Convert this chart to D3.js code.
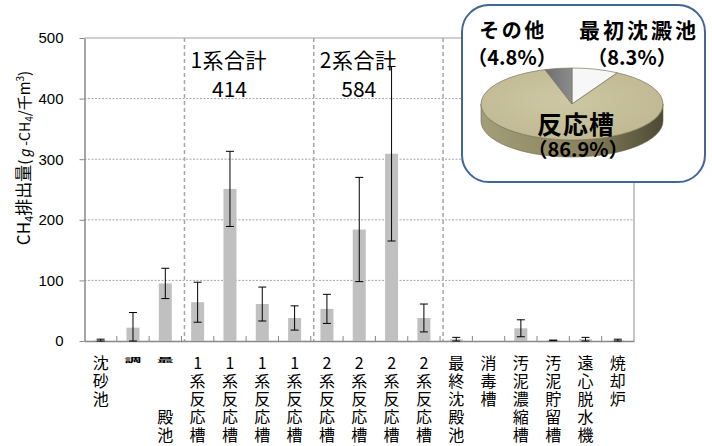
<!DOCTYPE html>
<html>
<head>
<meta charset="utf-8">
<script src="https://cdn.jsdelivr.net/npm/d3@7"></script>
<style>
  html, body { margin: 0; padding: 0; background: #fff; }
  svg { display: block; }
  text { font-family: "Noto Sans CJK JP", "Noto Sans", sans-serif; }
</style>
</head>
<body>
<svg id="chart" width="712" height="446"></svg>
<script>
// Facility-level CH4 emission factors (g-CH4 / 1000 m3)
const categories = [
  "沈砂池", "調整池", "最初沈殿池",
  "1系反応槽A", "1系反応槽B", "1系反応槽C", "1系反応槽D",
  "2系反応槽A", "2系反応槽B", "2系反応槽C", "2系反応槽D",
  "最終沈殿池", "消毒槽", "汚泥濃縮槽", "汚泥貯留槽", "遠心脱水機", "焼却炉"
];
// Axis labels as written under each bar ("*" = first glyph squeezed, "　" = blank row)
const tickLabels = [
  "沈砂池", "*調", "*最　　殿池",
  "1系反応槽A", "1系反応槽B", "1系反応槽C", "1系反応槽D",
  "2系反応槽A", "2系反応槽B", "2系反応槽C", "2系反応槽D",
  "最終沈殿池", "消毒槽", "汚泥濃縮槽", "汚泥貯留槽", "遠心脱水機", "焼却炉"
];
const meanValues = [1, 22, 95, 64, 251, 61, 38, 53, 184, 309, 38, 3, 0, 21, 1, 3, 1];
const errorValues = [2, 25, 25, 33, 62, 28, 20, 24, 86, 144, 23, 3, 0, 14, 0.5, 3, 2];
const yTicks = [0, 100, 200, 300, 400, 500];

// Reactor trains grouped for subtotal annotations
const groups = [
  { title: "1系合計", first: "1系反応槽A", last: "1系反応槽D" },
  { title: "2系合計", first: "2系反応槽A", last: "2系反応槽D" }
];
// Dashed separators drawn before these categories
const separatorsBefore = ["1系反応槽A", "2系反応槽A", "最終沈殿池"];

// Share of total emissions (inset pie)
const pieLabels = ["最初沈澱池", "反応槽", "その他"];
const pieShares = [8.3, 86.9, 4.8];

const svg = d3.select("#chart");
const plot = { left: 84.5, right: 634, top: 38, bottom: 341 };

const x = d3.scaleBand().domain(categories).range([plot.left, plot.right]).padding(0);
const y = d3.scaleLinear().domain([0, 500]).range([plot.bottom, plot.top]);

// Gridlines
svg.append("g").selectAll("line")
  .data(yTicks.filter(v => v > 0 && v < 500))
  .join("line")
  .attr("x1", plot.left).attr("x2", plot.right)
  .attr("y1", d => y(d)).attr("y2", d => y(d))
  .attr("stroke", "#a6a6a6").attr("stroke-width", 1)
  .attr("stroke-dasharray", "2,1.5");

// Plot frame (top and right)
svg.append("path")
  .attr("d", `M${plot.left},${plot.top}H${plot.right}V${plot.bottom}`)
  .attr("fill", "none").attr("stroke", "#a0a0a0").attr("stroke-width", 1.2);

// Dashed separators
svg.append("g").selectAll("line")
  .data(separatorsBefore)
  .join("line")
  .attr("x1", d => x(d) + 3).attr("x2", d => x(d) + 3)
  .attr("y1", plot.top).attr("y2", plot.bottom)
  .attr("stroke", "#a6a6a6").attr("stroke-width", 1.5)
  .attr("stroke-dasharray", "4,3");

// Y axis
const yAxis = svg.append("g")
  .attr("transform", `translate(${plot.left},0)`)
  .call(d3.axisLeft(y).tickValues(yTicks).tickSize(5).tickPadding(16).tickSizeOuter(0));
yAxis.select(".domain").attr("stroke", "#888").attr("stroke-width", 1.5);
yAxis.selectAll(".tick line").attr("stroke", "#888");
yAxis.selectAll(".tick text")
  .style("font-family", "'Liberation Sans', Arial, sans-serif")
  .style("font-size", "15px").attr("fill", "#000");

// X axis (ticks point up into the plot)
const xAxis = svg.append("g")
  .attr("transform", `translate(0,${plot.bottom})`)
  .call(d3.axisBottom(x).tickSize(0).tickFormat(""));
xAxis.select(".domain").attr("stroke", "#888").attr("stroke-width", 1.5);
svg.append("g").selectAll("line")
  .data(categories.slice(1))
  .join("line")
  .attr("x1", d => x(d)).attr("x2", d => x(d))
  .attr("y1", plot.bottom).attr("y2", plot.bottom - 5)
  .attr("stroke", "#888");

// Bars
const barW = 13;
svg.append("g").selectAll("rect")
  .data(categories)
  .join("rect")
  .attr("x", d => x(d) + x.bandwidth() / 2 - barW / 2)
  .attr("width", barW)
  .attr("y", (d, i) => y(meanValues[i]))
  .attr("height", (d, i) => y(0) - y(meanValues[i]))
  .attr("fill", "#c0c0c0");

// Subtotal annotations
groups.forEach(g => {
  const i0 = categories.indexOf(g.first), i1 = categories.indexOf(g.last);
  const total = d3.sum(meanValues.slice(i0, i1 + 1));
  const x0 = x(g.first) + 3 + 6;
  svg.append("text").attr("x", x0).attr("y", 68)
    .attr("font-size", 21).attr("letter-spacing", 0.5).attr("fill", "#000").text(g.title);
  svg.append("text").attr("x", x0 + 39).attr("y", 97).attr("text-anchor", "middle")
    .attr("font-size", 21).attr("fill", "#000").text(total);
});

// Error bars
const capW = 8;
const eb = svg.append("g").attr("stroke", "#000").attr("stroke-width", 1);
categories.forEach((c, i) => {
  const e = errorValues[i];
  if (!e) return;
  const cx = x(c) + x.bandwidth() / 2;
  const hi = meanValues[i] + e, lo = Math.max(0, meanValues[i] - e);
  eb.append("line").attr("x1", cx).attr("x2", cx).attr("y1", y(hi)).attr("y2", y(lo));
  eb.append("line").attr("x1", cx - capW / 2).attr("x2", cx + capW / 2).attr("y1", y(hi)).attr("y2", y(hi));
  eb.append("line").attr("x1", cx - capW / 2).attr("x2", cx + capW / 2).attr("y1", y(lo)).attr("y2", y(lo));
});

// Vertical category labels
const rowStep = 18, firstBaseline = 369;
const xl = svg.append("g");
tickLabels.forEach((lab, i) => {
  const cx = x(categories[i]) + x.bandwidth() / 2;
  let squeeze = false, s = lab;
  if (s.startsWith("*")) { squeeze = true; s = s.slice(1); }
  Array.from(s).forEach((ch, r) => {
    if (ch === "　") return;
    const t = xl.append("text").attr("text-anchor", "middle").attr("font-size", 16)
      .attr("fill", "#000").text(ch);
    if (squeeze && r === 0) {
      t.attr("font-weight", "bold")
        .attr("transform", `translate(${cx},${firstBaseline - 7}) scale(1.05,0.38)`);
    } else {
      t.attr("x", cx).attr("y", firstBaseline + r * rowStep);
    }
  });
});

// Y axis title
const yt = svg.append("text")
  .attr("transform", "translate(29.5,158) rotate(-90)")
  .attr("text-anchor", "middle").attr("font-size", 17).attr("fill", "#000");
yt.append("tspan").text("CH");
yt.append("tspan").attr("font-size", 11).attr("dy", 3).text("4");
yt.append("tspan").attr("dy", -3).text("排出量");
yt.append("tspan").attr("font-size", 15).text("(");
yt.append("tspan").attr("font-size", 14).text("ℊ-CH");
yt.append("tspan").attr("font-size", 10).attr("dy", 3).text("4");
yt.append("tspan").attr("font-size", 15).attr("dy", -3).text("/千m");
yt.append("tspan").attr("font-size", 10).attr("dy", -6).text("3");
yt.append("tspan").attr("font-size", 15).attr("dy", 6).text(")");

// Inset box
svg.append("rect")
  .attr("x", 462).attr("y", 5).attr("width", 243).attr("height", 177).attr("rx", 27)
  .attr("fill", "#fff").attr("stroke", "#3f6797").attr("stroke-width", 2);

// 3-D style pie
const pc = { cx: 572, cy: 104, rx: 91, ry: 36, depth: 17 };
const defs = svg.append("defs");
const sideGrad = defs.append("linearGradient").attr("id", "sideGrad")
  .attr("gradientUnits", "userSpaceOnUse")
  .attr("x1", pc.cx - pc.rx).attr("x2", pc.cx + pc.rx).attr("y1", 0).attr("y2", 0);
sideGrad.append("stop").attr("offset", "0%").attr("stop-color", "#a39d78");
sideGrad.append("stop").attr("offset", "55%").attr("stop-color", "#8a845e");
sideGrad.append("stop").attr("offset", "100%").attr("stop-color", "#4d4a34");
const topGrad = defs.append("radialGradient").attr("id", "topGrad")
  .attr("cx", "45%").attr("cy", "45%").attr("r", "70%");
topGrad.append("stop").attr("offset", "0%").attr("stop-color", "#cdc7a3");
topGrad.append("stop").attr("offset", "100%").attr("stop-color", "#bdb68f");
const grayGrad = defs.append("linearGradient").attr("id", "grayGrad")
  .attr("x1", "0%").attr("x2", "100%");
grayGrad.append("stop").attr("offset", "0%").attr("stop-color", "#6e6e6e");
grayGrad.append("stop").attr("offset", "100%").attr("stop-color", "#8c8c8c");

const sliceFill = ["#f7f7f7", "url(#topGrad)", "url(#grayGrad)"];
const arcs = d3.pie().sort(null).startAngle(0).endAngle(2 * Math.PI)(pieShares);
const pt = (a, dy = 0) => [pc.cx + pc.rx * Math.sin(a), pc.cy - pc.ry * Math.cos(a) + dy];

const pieG = svg.append("g");
// side walls (front half only)
arcs.forEach((a, i) => {
  const s = Math.max(a.startAngle, Math.PI / 2), e = Math.min(a.endAngle, 3 * Math.PI / 2);
  if (e <= s) return;
  const p0 = pt(s), p1 = pt(e), q1 = pt(e, pc.depth), q0 = pt(s, pc.depth);
  const large = (e - s) > Math.PI ? 1 : 0;
  pieG.append("path")
    .attr("d", `M${p0}A${pc.rx},${pc.ry} 0 ${large} 1 ${p1}L${q1}A${pc.rx},${pc.ry} 0 ${large} 0 ${q0}Z`)
    .attr("fill", i === 1 ? "url(#sideGrad)" : "#777")
    .attr("stroke", "#6b6749").attr("stroke-width", 0.6);
});
// top faces
arcs.forEach((a, i) => {
  const p0 = pt(a.startAngle), p1 = pt(a.endAngle);
  const large = (a.endAngle - a.startAngle) > Math.PI ? 1 : 0;
  pieG.append("path")
    .attr("d", `M${pc.cx},${pc.cy}L${p0}A${pc.rx},${pc.ry} 0 ${large} 1 ${p1}Z`)
    .attr("fill", sliceFill[i])
    .attr("stroke", "#7a7660").attr("stroke-width", 0.7);
});

// Pie labels
const pl = svg.append("g").attr("fill", "#000").attr("font-weight", "bold").attr("text-anchor", "middle");
const fmt = v => `（${v.toFixed(1)}%）`;
pl.append("text").attr("x", 513).attr("y", 38).attr("font-size", 20).attr("letter-spacing", 2.5).text(pieLabels[2]);
pl.append("text").attr("x", 512).attr("y", 65).attr("font-size", 20).text(fmt(pieShares[2]));
pl.append("text").attr("x", 639).attr("y", 38).attr("font-size", 21).attr("letter-spacing", 3).text(pieLabels[0]);
pl.append("text").attr("x", 632).attr("y", 65).attr("font-size", 20).text(fmt(pieShares[0]));
pl.append("text").attr("x", 576).attr("y", 134).attr("font-size", 25).attr("letter-spacing", 1).text(pieLabels[1]);
pl.append("text").attr("x", 578).attr("y", 157).attr("font-size", 20).text(fmt(pieShares[1]));
</script>
</body>
</html>
